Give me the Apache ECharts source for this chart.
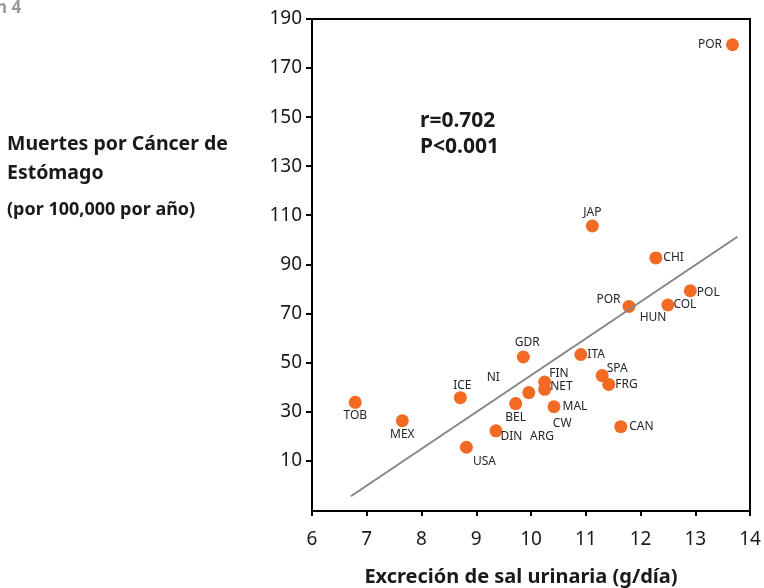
<!DOCTYPE html>
<html>
<head>
<meta charset="utf-8">
<script src="https://cdn.jsdelivr.net/npm/echarts@6/dist/echarts.min.js"></script>
<style>
  html, body { margin: 0; padding: 0; background: #fff; }
  #chart { width: 764px; height: 588px; }
</style>
</head>
<body>
<div id="chart"></div>
<script>
// countries (one point each), salt excretion (g/day) and stomach cancer deaths
const countries = ['POR', 'JAP', 'CHI', 'POL', 'POR', 'COL', 'GDR', 'ITA', 'SPA', 'FRG', 'FIN',
  'NET', '', 'MAL', 'CAN', 'BEL', 'DIN', 'USA', 'ICE', 'MEX', 'TOB']
const salt = [13.68, 11.12, 12.28, 12.91, 11.79, 12.50, 9.86, 10.91, 11.30, 11.42, 10.25,
  10.25, 9.96, 10.42, 11.64, 9.72, 9.36, 8.82, 8.71, 7.65, 6.79]
const deaths = [179.5, 105.6, 92.6, 79.2, 72.8, 73.4, 52.2, 53.2, 44.6, 41.0, 42.0,
  39.0, 37.7, 31.9, 23.8, 33.2, 22.1, 15.4, 35.6, 26.2, 33.7]

// labels printed without a dot
const looseNames = ['NI', 'CW', 'ARG', 'HUN']
const looseSalt = [9.31, 10.57, 10.20, 12.23]
const looseDeaths = [44.0, 25.0, 19.8, 68.1]

// regression line ends
const fitSalt = [6.71, 13.77]
const fitDeaths = [-4.6, 101.2]

const xTicks = [6, 7, 8, 9, 10, 11, 12, 13, 14]
const yTicks = [10, 30, 50, 70, 90, 110, 130, 150, 170, 190]

// where each point's name goes
const labelStyle = [
  { position: 'left', distance: 4 },
  { position: 'top', distance: 1 },
  { position: 'right', distance: 1 },
  { position: 'right', distance: 0, offset: [0, 2] },
  { position: 'left', distance: 2, offset: [0, -7] },
  { position: 'right', distance: -1 },
  { position: 'top', distance: 2, offset: [4, 0] },
  { position: 'right', distance: 0 },
  { position: 'right', distance: -2, offset: [0, -7] },
  { position: 'right', distance: 0 },
  { position: 'right', distance: -2, offset: [0, -8] },
  { position: 'right', distance: -1, offset: [0, -3] },
  { position: 'right', distance: 0 },
  { position: 'right', distance: 2 },
  { position: 'right', distance: 2 },
  { position: 'bottom', distance: 2 },
  { position: 'right', distance: -2, offset: [0, 6] },
  { position: 'right', distance: 0, offset: [0, 14] },
  { position: 'top', distance: 0, offset: [2, 0] },
  { position: 'bottom', distance: 1 },
  { position: 'bottom', distance: 1 }
]

const font = '"Noto Sans", "Open Sans", sans-serif'

const pointData = salt.map((s, i) => ({
  value: [s, deaths[i]],
  name: countries[i],
  label: labelStyle[i]
}))
const looseData = looseSalt.map((s, i) => ({ value: [s, looseDeaths[i]], name: looseNames[i] }))

const chart = echarts.init(document.getElementById('chart'))
const option = {
  animation: false,
  grid: {
    left: 312, right: 14, top: 19, bottom: 77,
    outerBoundsMode: 'none', containLabel: false,
    show: true, borderColor: '#000', borderWidth: 2
  },
  xAxis: {
    type: 'value', min: 6, max: 14, interval: 1,
    splitLine: { show: false },
    axisLine: { onZero: false, lineStyle: { color: '#000', width: 2 } },
    axisTick: { length: 5, lineStyle: { color: '#000', width: 2 } },
    axisLabel: { color: '#1a1a1a', fontSize: 19, fontFamily: font, margin: 19 },
    name: 'Excreción de sal urinaria (g/día)',
    nameLocation: 'middle', nameGap: 56,
    nameTextStyle: { color: '#1a1a1a', fontSize: 20, fontWeight: 'bold', fontFamily: font,
      padding: [0, 20, 0, 0] }
  },
  yAxis: {
    type: 'value', min: -10.6, max: 190,
    splitLine: { show: false },
    axisLine: { lineStyle: { color: '#000', width: 2 } },
    axisTick: { length: 6, customValues: yTicks, lineStyle: { color: '#000', width: 2 } },
    axisLabel: { customValues: yTicks, color: '#1a1a1a', fontSize: 19, fontFamily: font, margin: 10 }
  },
  graphic: [
    { type: 'text', left: -4, top: 0,
      style: { text: 'n 4', fill: '#9a9a9a', font: 'bold 17px ' + font } },
    { type: 'text', left: 7, top: 130,
      style: { text: 'Muertes por Cáncer de\nEstómago', fill: '#1a1a1a', lineHeight: 29,
        font: 'bold 19.5px ' + font } },
    { type: 'text', left: 7, top: 201,
      style: { text: '(por 100,000 por año)', fill: '#1a1a1a', font: 'bold 18px ' + font } },
    { type: 'text', left: 420, top: 108,
      style: { text: 'r=0.702\nP<0.001', fill: '#1a1a1a', lineHeight: 26,
        font: 'bold 21px ' + font } }
  ],
  series: [
    {
      type: 'line',
      data: fitSalt.map((s, i) => [s, fitDeaths[i]]),
      showSymbol: false, silent: true,
      lineStyle: { color: '#858585', width: 2 }
    },
    {
      type: 'scatter',
      data: pointData,
      symbolSize: 13,
      itemStyle: { color: '#F36A22', opacity: 1 },
      label: {
        show: true, formatter: '{b}', color: '#262626', fontSize: 12, fontFamily: font
      }
    },
    {
      type: 'scatter',
      data: looseData,
      symbolSize: 0, silent: true,
      itemStyle: { opacity: 1 },
      label: {
        show: true, position: 'inside', formatter: '{b}',
        color: '#262626', fontSize: 12, fontFamily: font
      }
    }
  ]
}
chart.setOption(option)
</script>
</body>
</html>
